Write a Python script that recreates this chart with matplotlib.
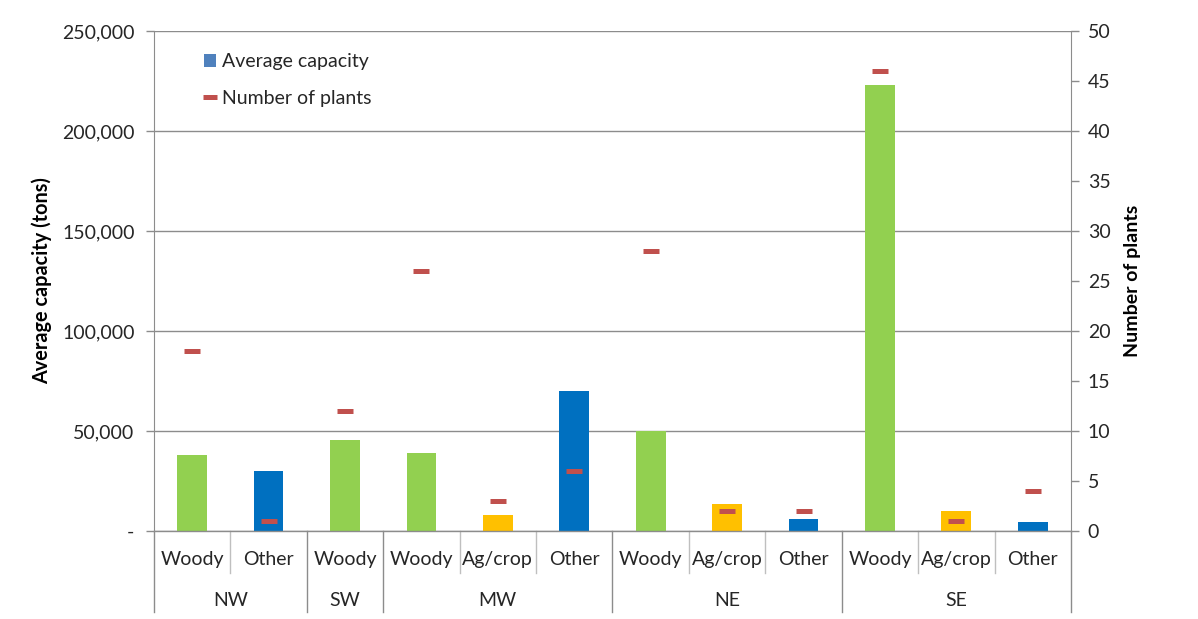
import numpy as np
import matplotlib.pyplot as plt
import matplotlib.transforms as mtransforms
from matplotlib.patches import Patch
from matplotlib.lines import Line2D

plt.rcParams['font.family'] = ['Lato', 'DejaVu Sans']

# data
regions = ['NW', 'SW', 'MW', 'NE', 'SE']
region_types = [['Woody', 'Other'],
                ['Woody'],
                ['Woody', 'Ag/crop', 'Other'],
                ['Woody', 'Ag/crop', 'Other'],
                ['Woody', 'Ag/crop', 'Other']]
avg_capacity = [38000, 30000, 45500, 39000, 8000, 70000,
                50000, 13500, 6000, 223000, 10000, 4500]
num_plants = [18, 1, 12, 26, 3, 6, 28, 2, 2, 46, 1, 4]

type_colors = {'Woody': '#92D050', 'Ag/crop': '#FFC000', 'Other': '#0070C0'}
grey = '#8C8C8C'
txt = '#262626'
fs = 14

types = [t for grp in region_types for t in grp]
x = np.arange(len(types))

fig = plt.figure(figsize=(11.98, 6.19), dpi=100)
ax = fig.add_axes([0.1285, 0.1422, 0.7655, 0.8078])
ax2 = ax.twinx()

ax.bar(x, avg_capacity, width=0.39, color=[type_colors[t] for t in types], zorder=3)
ax2.plot(x, num_plants, linestyle='none', marker='_', markersize=11.5,
         markeredgewidth=3.6, color='#C0504D', zorder=4)

ax.set_xlim(-0.5, len(types) - 0.5)
ax.set_ylim(0, 250000)
ax2.set_ylim(0, 50)
ax.set_yticks(np.arange(0, 250001, 50000))
ax.set_yticklabels(['-'] + ['{:,}'.format(v) for v in range(50000, 250001, 50000)])
ax2.set_yticks(np.arange(0, 51, 5))

ax.yaxis.grid(True, color=grey, linewidth=1, zorder=0)
ax.set_axisbelow(True)
ax.set_xticks([])

for a in (ax, ax2):
    for s in ('top', 'bottom'):
        a.spines[s].set_visible(False)
    a.spines['left'].set_color(grey)
    a.spines['right'].set_color(grey)
    a.tick_params(axis='y', colors=grey, labelcolor=txt, labelsize=fs,
                  length=6, width=1, direction='out')
ax.spines['right'].set_visible(False)
ax2.spines['left'].set_visible(False)
ax.tick_params(axis='y', pad=8)
ax2.tick_params(axis='y', pad=6)

ax.set_ylabel('Average capacity (tons)', fontsize=14.3, fontweight='bold',
              color='black', labelpad=7)
ax2.set_ylabel('Number of plants', fontsize=14, fontweight='bold',
               color='black', rotation=90, labelpad=10)

# two level category axis
trans = mtransforms.blended_transform_factory(ax.transData, ax.transAxes)
ax.plot([-0.5, len(types) - 0.5], [0, 0], color=grey, lw=1,
        transform=trans, clip_on=False, zorder=5)
for i, t in enumerate(types):
    ax.text(i, -0.058, t, transform=trans, ha='center', va='center',
            fontsize=fs, color=txt)
start = 0
bounds = [-0.5]
for reg, grp in zip(regions, region_types):
    n = len(grp)
    ax.text(start + (n - 1) / 2, -0.14, reg, transform=trans, ha='center',
            va='center', fontsize=fs, color=txt)
    for k in range(1, n):
        ax.plot([start + k - 0.5] * 2, [0, -0.084], color='#BFBFBF', lw=1,
                transform=trans, clip_on=False)
    start += n
    bounds.append(start - 0.5)
for b in bounds:
    ax.plot([b, b], [0, -0.162], color=grey, lw=1, transform=trans, clip_on=False)

handles = [Patch(facecolor='#4F81BD', edgecolor='none'),
           Line2D([], [], linestyle='none', marker='_', markersize=10,
                  markeredgewidth=3.6, color='#C0504D')]
leg = ax.legend(handles, ['Average capacity', 'Number of plants'],
                loc='upper left', bbox_to_anchor=(0.035, 0.99), frameon=False,
                fontsize=fs, handlelength=0.65, handleheight=0.65,
                handletextpad=0.3, labelspacing=1.0)
for t in leg.get_texts():
    t.set_color(txt)

fig.savefig('out.png', dpi=100)
